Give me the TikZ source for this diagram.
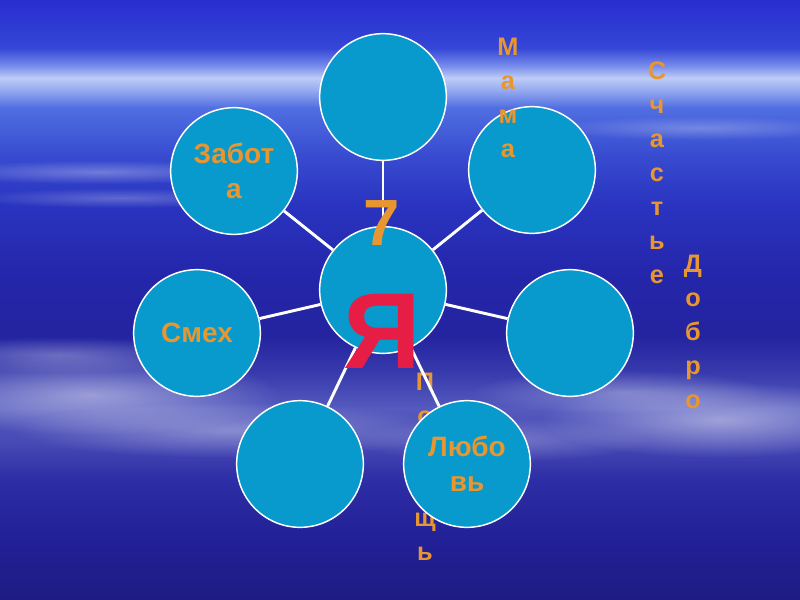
\documentclass[tikz,border=0pt]{standalone}
\usepackage{fontspec}
\setmainfont{Liberation Sans}
\usetikzlibrary{fadings}

\definecolor{bubbleblue}{RGB}{8,154,204}
\definecolor{wordorange}{RGB}{232,150,48}
\definecolor{yared}{RGB}{230,30,70}

% sky, bottom to top (25bp = lower edge, 75bp = upper edge)
\pgfdeclareverticalshading{sky}{100bp}{
  rgb(0bp)=(.118,.110,.510); rgb(25bp)=(.118,.110,.510);
  rgb(30bp)=(.133,.125,.588); rgb(35bp)=(.176,.176,.647);
  rgb(38bp)=(.275,.282,.706); rgb(41bp)=(.333,.353,.745);
  rgb(44bp)=(.216,.227,.675); rgb(47bp)=(.141,.141,.627);
  rgb(52bp)=(.141,.149,.667); rgb(58bp)=(.165,.204,.753);
  rgb(62bp)=(.216,.294,.816); rgb(66bp)=(.314,.431,.882);
  rgb(67.5bp)=(.588,.667,.941); rgb(68.5bp)=(.745,.8,.965);
  rgb(69.5bp)=(.471,.549,.922); rgb(71bp)=(.204,.275,.843);
  rgb(75bp)=(.157,.176,.804); rgb(100bp)=(.157,.176,.804)}

\tikzfading[name=soft, inner color=transparent!0, outer color=transparent!100]

\begin{document}
\begin{tikzpicture}[x=0.75pt, y=-0.75pt,
  bubble/.style={circle, draw=white, line width=1.1pt, fill=bubbleblue,
    minimum size=95pt, inner sep=0pt, text=wordorange, align=center,
    font=\bfseries\fontsize{21pt}{26pt}\selectfont},
  spoke/.style={white, line width=2.2pt},
  column/.style={text=wordorange, anchor=north, inner sep=0pt, align=center,
    font=\bfseries\fontsize{19pt}{25.5pt}\selectfont},
  cloud/.style={white, path fading=soft}]

  % Sky
  \clip (0,0) rectangle (800,600);
  \shade[shading=sky] (0,0) rectangle (800,600);
  \fill[cloud, opacity=.45] (90,395) ellipse (190 and 40);
  \fill[cloud, opacity=.35] (230,430) ellipse (220 and 28);
  \fill[cloud, opacity=.3] (60,355) ellipse (150 and 18);
  \fill[cloud, opacity=.45] (720,420) ellipse (180 and 38);
  \fill[cloud, opacity=.3] (620,392) ellipse (150 and 22);
  \fill[cloud, opacity=.25] (500,440) ellipse (150 and 22);
  \fill[cloud, opacity=.3] (100,172) ellipse (170 and 12);
  \fill[cloud, opacity=.25] (120,198) ellipse (150 and 10);
  \fill[cloud, opacity=.25] (700,128) ellipse (150 and 12);

  % Word half hidden behind a bubble
  \node[column] (help) at (425,373) {П\\о\\м\\о\\щ\\ь};

  % Bubbles
  \node[bubble] (hub) at (383,290) {};
  \node[bubble] (top) at (383,97) {};
  \node[bubble] (topright) at (532,170) {};
  \node[bubble] (right) at (570,333) {};
  \node[bubble] (love) at (467,464) {Любо\\вь};
  \node[bubble] (lowleft) at (300,464) {};
  \node[bubble] (laugh) at (197,333) {Смех};
  \node[bubble] (care) at (234,171) {Забот\\а};

  % Spokes
  \foreach \p in {top, topright, right, love, lowleft, laugh, care}
    \draw[spoke] (hub) -- (\p);

  % Words
  \node[column] (mum) at (508,38) {М\\а\\м\\а};
  \node[column] (joy) at (657,62) {С\\ч\\а\\с\\т\\ь\\е};
  \node[column] (good) at (693,255) {Д\\о\\б\\р\\о};

  \node[text=wordorange, inner sep=0pt, font=\bfseries\fontsize{49pt}{49pt}\selectfont]
    (seven) at (382,223) {7};
  \node[text=yared, inner sep=0pt, font=\bfseries\fontsize{81pt}{81pt}\selectfont]
    (ya) at (382,331) {Я};
\end{tikzpicture}
\end{document}
